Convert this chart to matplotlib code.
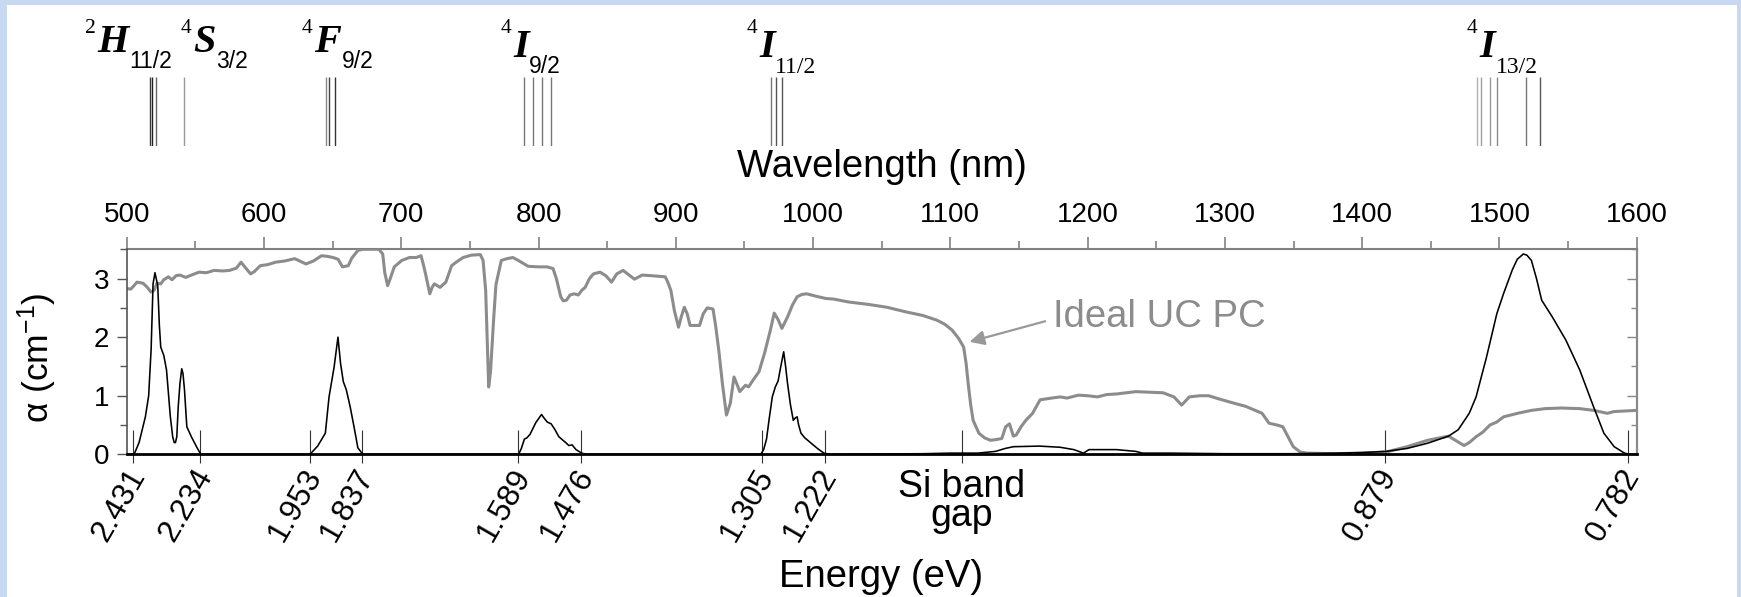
import matplotlib
matplotlib.use("Agg")
import matplotlib.pyplot as plt
from matplotlib.patches import Rectangle
from matplotlib.ticker import FixedLocator
from matplotlib.transforms import ScaledTranslation

plt.rcParams["font.family"] = ["Liberation Sans", "DejaVu Sans"]
plt.rcParams["mathtext.default"] = "regular"

# Er3+ absorption coefficient (black curve)
er_nm = [500, 505.4, 509, 513.6, 516, 517.8, 519.2, 520.6, 522.6, 523.8, 524.8, 527, 529,
         530.5, 531.8, 533.5, 534.6, 535.5, 536.5, 537.5, 538.8, 540.1, 541, 542.1, 543.2,
         543.8, 547.1, 551.3, 554, 600, 633.5, 639.1, 644.7, 647.4, 651.1, 653.9, 655.8,
         657.8, 660, 662.8, 665.6, 668.4, 672, 730, 785.5, 787.5, 789.7, 791.5, 793.8, 798,
         802.2, 804, 806.4, 809.2, 812, 814.8, 820.3, 822, 824.5, 827.3, 831.5, 835, 900,
         961.9, 964, 966.1, 968, 970.3, 972.5, 974.5, 976.5, 978.6, 980, 981.4, 983.5, 985.6,
         987, 988.4, 989.5, 991.2, 994, 998.1, 1003.7, 1007.9, 1012, 1080, 1100, 1120, 1133,
         1140, 1146, 1165, 1180, 1190, 1197, 1201, 1221, 1235, 1240, 1260, 1300, 1350, 1380,
         1400, 1417.6, 1432.7, 1447.8, 1462.9, 1470, 1478, 1483, 1490.6, 1498.1, 1503.1,
         1509.4, 1513, 1517.4, 1520, 1523.3, 1527, 1530.8, 1538.4, 1548.4, 1558.5, 1568.6,
         1576.1, 1583.6, 1591.1, 1595, 1600]
er_alpha = [0, 0, 0.2, 0.64, 1.0, 1.8, 2.91, 3.1, 2.88, 2.2, 1.83, 1.69, 1.44,
            1.0, 0.64, 0.3, 0.2, 0.2, 0.3, 0.8, 1.21, 1.46, 1.38, 1.1, 0.7,
            0.47, 0.3, 0.11, 0.0, 0.0, 0.0, 0.14, 0.36, 0.98, 1.49, 2.0, 1.55,
            1.24, 1.1, 0.81, 0.47, 0.11, 0.0, 0.0, 0.0, 0.1, 0.26, 0.28, 0.34, 0.54,
            0.68, 0.62, 0.55, 0.52, 0.42, 0.3, 0.19, 0.15, 0.16, 0.08, 0.02, 0.0, 0.0,
            0.0, 0.08, 0.26, 0.6, 0.98, 1.15, 1.25, 1.5, 1.75, 1.5, 1.21, 0.85, 0.58,
            0.62, 0.64, 0.5, 0.36, 0.28, 0.2, 0.09, 0.02, 0.0, 0.01, 0.02, 0.02, 0.05,
            0.1, 0.13, 0.14, 0.12, 0.08, 0.02, 0.08, 0.08, 0.05, 0.02, 0.02, 0.01, 0.01, 0.02,
            0.03, 0.05, 0.1, 0.19, 0.31, 0.42, 0.7, 0.98, 1.66, 2.4, 2.75,
            3.15, 3.33, 3.42, 3.4, 3.31, 3.0, 2.63, 2.35, 1.95, 1.44, 0.81,
            0.36, 0.13, 0.02, 0.0, 0.0]

# Ideal up-conversion photonic crystal (gray curve)
pc_nm = [500, 503, 507.6, 512, 515, 517.7, 520, 522, 524.8, 527, 530.4, 533, 536, 538.8,
         543, 547.1, 552.7, 558, 563.8, 570, 575, 580, 583.3, 586, 590.3, 593, 597.3, 603,
         608.4, 615, 622.4, 626, 630.6, 636, 641.9, 646, 650.3, 654, 657.2, 661.4, 664,
         668.4, 672, 683.7, 686.5, 688, 690.1, 692, 694.9, 700.4, 706, 711, 714.4, 716,
         717.7, 720.8, 722.5, 724.1, 728.3, 732.5, 736.7, 740, 745.1, 751, 757.6, 759.6,
         761.5, 763.7, 765, 767.4, 769, 772.9, 777, 781.3, 786, 792.4, 800, 806.4, 810.6,
         813, 816.2, 818, 820.3, 823, 825.9, 829, 831.5, 834, 837.1, 840, 844.8, 849, 853.2,
         857, 861.6, 866, 869.9, 875.5, 882, 892.3, 894, 896.4, 899, 902, 904, 906.2, 908.3,
         910.4, 914, 917.3, 920, 922.9, 927.1, 929, 931.3, 934, 936.9, 939.7, 942.4, 944.5,
         946.6, 950.8, 953, 956.4, 960.6, 964.7, 968.9, 971.7, 974.5, 977.3, 981.5, 985,
         988.4, 992, 995.4, 1002, 1009.3, 1015, 1026, 1040, 1053.9, 1067.9, 1080, 1090.2,
         1096, 1101.3, 1106, 1109.7, 1111.5, 1113, 1114.8, 1116.6, 1120.8, 1125, 1129.2,
         1133, 1137.5, 1140.3, 1143.1, 1145.9, 1148, 1151.5, 1155, 1159.9, 1165.4, 1173.8,
         1180, 1185, 1193.3, 1200, 1207.2, 1214, 1221.1, 1235.1, 1245, 1255, 1262.9, 1268.5,
         1274.1, 1281.9, 1288.2, 1295, 1307, 1315, 1327.1, 1332.2, 1338, 1342.2, 1346,
         1349.8, 1354.8, 1360, 1380, 1400, 1417.6, 1432.7, 1447.8, 1462.9, 1467.9, 1474.2,
         1478, 1483, 1488, 1493.1, 1498, 1503.1, 1513.2, 1523.3, 1533.4, 1545, 1558.5,
         1568.6, 1578.6, 1583.6, 1600]
pc_alpha = [2.83, 2.82, 2.94, 2.92, 2.85, 2.77, 2.8, 2.92, 2.91, 2.98, 3.03, 2.98, 3.05, 3.06,
            3.02, 3.06, 3.11, 3.1, 3.14, 3.13, 3.14, 3.18, 3.28, 3.2, 3.08, 3.12, 3.22, 3.24,
            3.28, 3.3, 3.34, 3.3, 3.25, 3.3, 3.39, 3.38, 3.36, 3.33, 3.2, 3.22, 3.35,
            3.48, 3.5, 3.5, 3.42, 3.1, 2.88, 3.0, 3.2, 3.31, 3.36, 3.36, 3.39, 3.25,
            3.08, 2.74, 2.85, 2.91, 2.85, 2.94, 3.22, 3.28, 3.36, 3.4, 3.41, 3.31,
            2.8, 1.15, 1.4, 2.34, 2.9, 3.31, 3.34, 3.36, 3.3, 3.21, 3.2, 3.2, 3.17,
            3.0, 2.69, 2.62, 2.63, 2.72, 2.74, 2.72, 2.8, 2.85, 3.0, 3.08, 3.11, 3.05, 2.94,
            3.08, 3.14, 3.06, 2.99, 3.06, 3.05, 3.03, 2.95, 2.8, 2.45, 2.17, 2.35, 2.51, 2.4,
            2.2, 2.2, 2.2, 2.4, 2.5, 2.48, 2.2, 1.78, 1.2, 0.67, 0.87, 1.32, 1.2,
            1.07, 1.18, 1.15, 1.27, 1.41, 1.73, 2.12, 2.41, 2.3, 2.15, 2.35, 2.55,
            2.69, 2.73, 2.74, 2.7, 2.66, 2.65, 2.6, 2.56, 2.51, 2.43, 2.37, 2.29,
            2.22, 2.12, 1.98, 1.83, 1.55, 1.21, 0.85, 0.58, 0.36, 0.28, 0.24,
            0.25, 0.27, 0.47, 0.52, 0.31, 0.33, 0.47, 0.58, 0.70, 0.93, 0.96,
            0.98, 0.96, 1.01, 1.0, 0.98, 1.02, 1.03, 1.07, 1.06, 1.05, 0.98, 0.84,
            0.98, 1.0, 1.0, 0.95, 0.87, 0.82, 0.70, 0.53, 0.5, 0.47, 0.3,
            0.13, 0.04, 0.02, 0.01, 0.02, 0.04, 0.13, 0.24, 0.31, 0.24, 0.15,
            0.2, 0.3, 0.38, 0.5, 0.55, 0.64, 0.7, 0.75, 0.78, 0.79, 0.78,
            0.75, 0.70, 0.73, 0.75]

# Band edges marked on the energy axis
edge_nm = [504.7, 553.6, 633.5, 671.6, 785.3, 831.3, 962.7, 1008.7, 1108.4, 1416.8, 1594.0]
edge_labels = ["2.431", "2.234", "1.953", "1.837", "1.589", "1.476",
               "1.305", "1.222", "Si band\ngap", "0.879", "0.782"]
si_index = 8

# Axis ticks
wavelength_ticks = [500, 600, 700, 800, 900, 1000, 1100, 1200, 1300, 1400, 1500, 1600]
wavelength_minor = [550, 650, 750, 850, 950, 1050, 1150, 1250, 1350, 1450, 1550]
alpha_ticks = [0, 1, 2, 3]
alpha_minor = [0.5, 1.5, 2.5, 3.5]

# Er3+ manifolds and their transition lines
level_sup = ["2", "4", "4", "4", "4", "4"]
level_term = ["H", "S", "F", "I", "I", "I"]
level_sub = ["11/2", "3/2", "9/2", "9/2", "11/2", "13/2"]
level_lines_nm = [[517.0, 518.6, 521.3], [541.5], [645.5, 647.4, 651.7],
                  [789.6, 795.8, 802.2, 809.2], [969.4, 973.0, 977.7],
                  [1483.7, 1486.8, 1493.1, 1498.5, 1519.4, 1529.5]]

# styling for the manifold labels and lines
level_line_grays = [["#3a3a3a", "#222222", "#666666"], ["#9a9a9a"],
                    ["#888888", "#444444", "#333333"], ["#777777"] * 4,
                    ["#777777", "#555555", "#555555"],
                    ["#b0b0b0", "#a0a0a0", "#999999", "#8a8a8a", "#777777", "#555555"]]
label_left_nm = [478.8, 548.3, 636.5, 781.4, 960.6, 1485.3]
label_drop_px = [0, 0, 0, 5, 5, 5]
sub_family = ["Liberation Sans"] * 4 + ["Liberation Serif"] * 2
sub_size = [16.5, 16.5, 16.5, 16.5, 17, 17]

W, H = 1741, 597
PT = 0.72  # points per pixel at 100 dpi
GRAY = "#8c8c8c"

fig = plt.figure(figsize=(W / 100, H / 100), dpi=100)
fig.patch.set_facecolor("#c6d9f1")
fig.add_artist(Rectangle((7 / W, 0), (1736.5 - 7) / W, (H - 5) / H,
                         transform=fig.transFigure, facecolor="white",
                         edgecolor="none", zorder=-10))

# ---- main absorption panel ----
ax = fig.add_axes([126.7 / W, (H - 454.3) / H, 1510 / W, 205 / H])
ax.set_facecolor("none")
ax.set_xlim(500, 1600)
ax.set_ylim(0, 3.5)

ax.plot(pc_nm, pc_alpha, color=GRAY, lw=2.2, zorder=2)
ax.plot(er_nm, er_alpha, color="black", lw=1.15, zorder=3)

ax.spines["top"].set_visible(False)
ax.spines["right"].set_visible(False)
ax.spines["left"].set_color("#555555")
ax.spines["left"].set_linewidth(1.2)
ax.spines["bottom"].set_color("black")
ax.spines["bottom"].set_linewidth(2.0)

# left y axis
ax.yaxis.set_major_locator(FixedLocator(alpha_ticks))
ax.yaxis.set_minor_locator(FixedLocator(alpha_minor))
ax.tick_params(axis="y", which="major", direction="out", length=7.2, width=1.0,
               color="#555555", labelsize=20, pad=5.3)
ax.tick_params(axis="y", which="minor", direction="out", length=4.8, width=1.0,
               color="#555555")
ax.set_ylabel("α (cm$^{-1}$)", fontsize=25.5)
ax.yaxis.set_label_coords(-0.0594, 0.47)
ax.yaxis.label.set_va("center")

# right y axis: inward ticks only
axr = ax.secondary_yaxis("right")
axr.yaxis.set_major_locator(FixedLocator(alpha_ticks))
axr.yaxis.set_minor_locator(FixedLocator(alpha_minor))
axr.tick_params(which="major", direction="in", length=7.2, width=1.0,
                color="#888888", labelright=False)
axr.tick_params(which="minor", direction="in", length=4.0, width=1.0,
                color="#888888")
axr.spines["right"].set_color("#8a8a8a")
axr.spines["right"].set_linewidth(1.6)

# top wavelength axis
axt = ax.secondary_xaxis("top")
axt.xaxis.set_major_locator(FixedLocator(wavelength_ticks))
axt.xaxis.set_minor_locator(FixedLocator(wavelength_minor))
axt.tick_params(which="major", direction="out", length=8.6, width=1.1,
                color="#777777", labelsize=20, pad=6.5)
axt.tick_params(which="minor", direction="out", length=5.5, width=1.1,
                color="#777777")
axt.spines["top"].set_color("#808080")
axt.spines["top"].set_linewidth(1.5)
axt.set_xlabel("Wavelength (nm)", fontsize=27.5)
axt.xaxis.set_label_coords(0.5, 1.403, transform=ax.transAxes)
axt.xaxis.label.set_va("center")

# bottom energy axis: long inner ticks plus short outer stubs
tick_text = [("" if i == si_index else t) for i, t in enumerate(edge_labels)]
ax.set_xticks(edge_nm, tick_text)
ax.xaxis.set_minor_locator(FixedLocator(edge_nm))
ax.xaxis.remove_overlapping_locs = False
ax.tick_params(axis="x", which="major", direction="in", length=17.3, width=0.8,
               color="#333333", labelsize=22.5, pad=12.0)
ax.tick_params(axis="x", which="minor", direction="out", length=6.3, width=0.8,
               color="#333333")
shift = ScaledTranslation(5 / 100, 0, fig.dpi_scale_trans)
for lbl in ax.get_xticklabels():
    lbl.set_rotation(60)
    lbl.set_ha("right")
    lbl.set_va("center")
    lbl.set_rotation_mode("anchor")
    lbl.set_transform(lbl.get_transform() + shift)

ax.annotate(edge_labels[si_index], xy=(edge_nm[si_index], 0), xycoords="data",
            xytext=(0, -10.9), textcoords="offset points", ha="center", va="top",
            fontsize=27, linespacing=0.72, annotation_clip=False)

ax.set_xlabel("Energy (eV)", fontsize=27.5)
ax.xaxis.set_label_coords(0.4995, -0.5985)
ax.xaxis.label.set_va("center")

ax.annotate("Ideal UC PC", xy=(1114, 1.92), xytext=(1175, 2.34),
            color=GRAY, fontsize=27.5, ha="left", va="center",
            arrowprops=dict(arrowstyle="-|>", color="#999999", lw=1.6,
                            mutation_scale=22, shrinkA=4, shrinkB=0,
                            relpos=(0, 0.45)))

# ---- Er3+ manifold panel ----
axl = fig.add_axes([126.7 / W, (H - 146) / H, 1510 / W, 69 / H])
axl.set_xlim(500, 1600)
axl.set_ylim(0, 1)
axl.axis("off")

for i, lines in enumerate(level_lines_nm):
    axl.vlines(lines, 0, 1, colors=level_line_grays[i], lw=1.0)
    drop = label_drop_px[i] * PT
    term = axl.annotate(level_term[i], xy=(label_left_nm[i], 1),
                        xycoords=("data", "axes fraction"),
                        xytext=(0, (77 - 52) * PT - drop), textcoords="offset points",
                        ha="left", va="baseline", fontsize=29,
                        family="Liberation Serif", style="italic", weight="bold",
                        annotation_clip=False)
    axl.annotate(level_sup[i], xy=(label_left_nm[i], 1),
                 xycoords=("data", "axes fraction"),
                 xytext=(-1.5, (77 - 33) * PT), textcoords="offset points",
                 ha="right", va="baseline", fontsize=15.5,
                 family="Liberation Serif", annotation_clip=False)
    axl.annotate(level_sub[i], xy=(1, 0), xycoords=term,
                 xytext=(0.5, -5.0), textcoords="offset points",
                 ha="left", va="baseline", fontsize=sub_size[i],
                 family=sub_family[i], annotation_clip=False)

fig.savefig("out.png", dpi=100, facecolor=fig.get_facecolor())
